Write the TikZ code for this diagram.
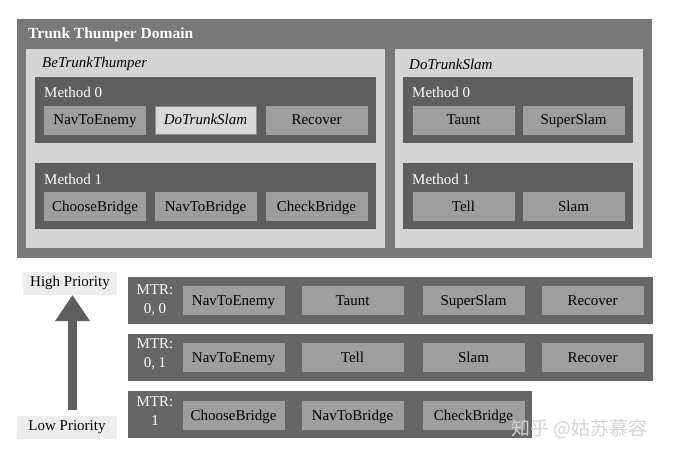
\documentclass[tikz,border=0pt]{standalone}
\usepackage{fontspec}
\setmainfont{Liberation Serif}
\newfontfamily\cjk{Noto Sans CJK SC}
\usetikzlibrary{arrows.meta}

\definecolor{domaingray}{gray}{0.47}
\definecolor{panelgray}{gray}{0.83}
\definecolor{methodgray}{gray}{0.37}
\definecolor{taskgray}{gray}{0.62}
\definecolor{hilitegray}{gray}{0.85}
\definecolor{rowgray}{gray}{0.40}
\definecolor{priogray}{gray}{0.93}

\tikzset{
  frame/.style={inner sep=0pt, anchor=north west},
  domainbox/.style={frame, fill=domaingray},
  panelbox/.style={frame, fill=panelgray},
  methodbox/.style={frame, fill=methodgray},
  mtrrow/.style={frame, fill=rowgray},
  taskbox/.style={fill=taskgray, draw=gray!75, line width=0.6pt, inner sep=0pt,
    minimum width=101, minimum height=28, text height=11, text depth=1},
  hilitebox/.style={taskbox, fill=hilitegray, draw=gray!90, font=\fontsize{15}{17}\selectfont\itshape},
  tag/.style={anchor=west, inner sep=0pt},
  whitetag/.style={tag, text=white},
  mtrtag/.style={text=white, align=center, inner sep=0pt, font=\fontsize{15}{19}\selectfont},
  priobox/.style={fill=priogray, inner sep=0pt, minimum height=23},
}

\begin{document}
\begin{tikzpicture}[x=1pt,y=-1pt,font=\fontsize{15}{17}\selectfont]
  \useasboundingbox (0,0) rectangle (679,457);

  % domain
  \node[domainbox, minimum width=635, minimum height=239] (domain) at (17,19) {};
  \node[whitetag, font=\fontsize{15.5}{17}\selectfont\bfseries] (domaintag) at (28,35) {Trunk Thumper Domain};

  % BeTrunkThumper
  \node[panelbox, minimum width=359, minimum height=199] (bepanel) at (26,49) {};
  \node[tag, font=\fontsize{15}{17}\selectfont\itshape] (betag) at (42,64) {BeTrunkThumper};
  \node[methodbox, minimum width=341, minimum height=66] (bem0) at (35,77) {};
  \node[whitetag] (bem0tag) at (44,92) {Method 0};
  \node[taskbox] (bem0a) at (95,120) {NavToEnemy};
  \node[hilitebox] (bem0b) at (205.5,120) {DoTrunkSlam};
  \node[taskbox] (bem0c) at (316.5,120) {Recover};
  \node[methodbox, minimum width=341, minimum height=66] (bem1) at (35,163) {};
  \node[whitetag] (bem1tag) at (44,179) {Method 1};
  \node[taskbox] (bem1a) at (95,206) {ChooseBridge};
  \node[taskbox] (bem1b) at (205.5,206) {NavToBridge};
  \node[taskbox] (bem1c) at (316.5,206) {CheckBridge};

  % DoTrunkSlam
  \node[panelbox, minimum width=248, minimum height=199] (dopanel) at (395,49) {};
  \node[tag, font=\fontsize{15}{17}\selectfont\itshape] (dotag) at (409,64) {DoTrunkSlam};
  \node[methodbox, minimum width=230, minimum height=66] (dom0) at (403,77) {};
  \node[whitetag] (dom0tag) at (412,92) {Method 0};
  \node[taskbox] (dom0a) at (463.5,120) {Taunt};
  \node[taskbox] (dom0b) at (573.5,120) {SuperSlam};
  \node[methodbox, minimum width=230, minimum height=66] (dom1) at (403,163) {};
  \node[whitetag] (dom1tag) at (412,179) {Method 1};
  \node[taskbox] (dom1a) at (463.5,206) {Tell};
  \node[taskbox] (dom1b) at (573.5,206) {Slam};

  % priority arrow
  \node[priobox, minimum width=94] (high) at (70,283) {High Priority};
  \node[priobox, minimum width=100] (low) at (67,427.5) {Low Priority};
  \coordinate (arrlo) at (72.5,410);
  \coordinate (arrhi) at (72.5,295);
  \draw[methodgray, line width=9pt, -{Triangle[width=33pt,length=26pt]}] (arrlo) -- (arrhi);

  % MTR rows
  \node[mtrrow, minimum width=525, minimum height=47] (row0) at (128,277) {};
  \node[mtrtag] (row0tag) at (155,300) {MTR:\\0, 0};
  \node[taskbox] (row0a) at (233.5,300.5) {NavToEnemy};
  \node[taskbox] (row0b) at (352.5,300.5) {Taunt};
  \node[taskbox] (row0c) at (473.5,300.5) {SuperSlam};
  \node[taskbox] (row0d) at (592.5,300.5) {Recover};

  \node[mtrrow, minimum width=525, minimum height=47] (row1) at (128,334) {};
  \node[mtrtag] (row1tag) at (155,354) {MTR:\\0, 1};
  \node[taskbox] (row1a) at (233.5,357.5) {NavToEnemy};
  \node[taskbox] (row1b) at (352.5,357.5) {Tell};
  \node[taskbox] (row1c) at (473.5,357.5) {Slam};
  \node[taskbox] (row1d) at (592.5,357.5) {Recover};

  \node[mtrrow, minimum width=404, minimum height=47] (row2) at (128,391) {};
  \node[mtrtag] (row2tag) at (155,411) {MTR:\\1};
  \node[taskbox] (row2a) at (233.5,415) {ChooseBridge};
  \node[taskbox] (row2b) at (352.5,415) {NavToBridge};
  \node[taskbox] (row2c) at (473.5,415) {CheckBridge};

  % watermark
  \node[tag, text=gray!35, font=\cjk\fontsize{19}{20}\selectfont] (mark) at (511,429) {知乎 @姑苏慕容};
\end{tikzpicture}
\end{document}
